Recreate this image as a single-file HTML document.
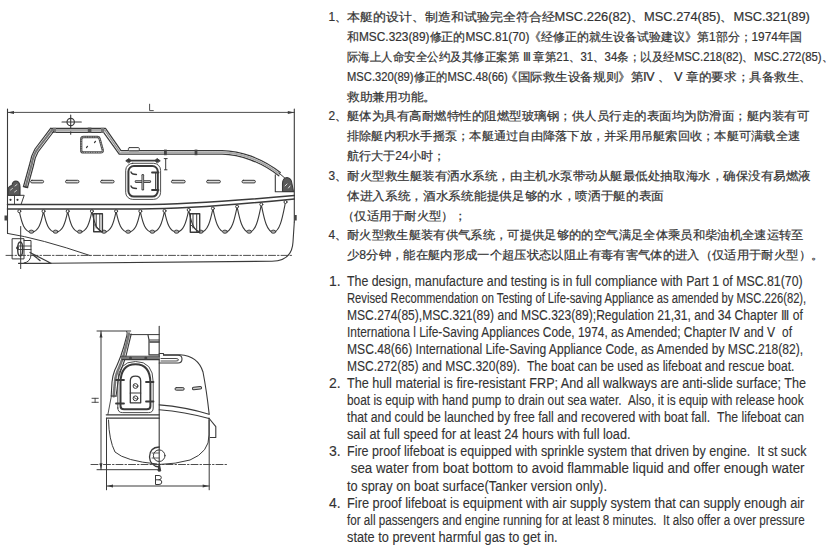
<!DOCTYPE html>
<html><head><meta charset="utf-8"><style>
html,body{margin:0;padding:0;background:#fff;}
body{width:830px;height:552px;position:relative;overflow:hidden;font-family:"Liberation Sans",sans-serif;color:#333;}
.cn,.en{position:absolute;white-space:nowrap;line-height:14px;height:14px;}
.cn{font-size:11.9px;-webkit-text-stroke:0.2px #333;}
.en{font-size:14.0px;color:#333;-webkit-text-stroke:0.12px #333;}
.ln{left:347px;transform-origin:0 0;}
.cn.num{left:328.6px;}
.en.num{left:329px;}
svg{position:absolute;left:0;top:0;}
</style></head><body>
<svg width="830" height="552" viewBox="0 0 830 552" fill="none" stroke="#3a3a3a" stroke-width="1" stroke-linecap="round" stroke-linejoin="round">
<!-- ===== SIDE VIEW ===== -->
<!-- L dimension -->
<path d="M7.5 109 V233.4 M294.3 109 V222" stroke-width="1.1"/>
<path d="M7.5 112.4 H294.3" stroke-width="0.9"/>
<path d="M7.5 112.4 L14 110.9 V113.9 Z M294.3 112.4 L287.8 110.9 V113.9 Z" fill="#3a3a3a" stroke="none"/>
<path d="M149.6 104.2 V110.6 H153.3" stroke-width="0.9"/>
<!-- mast light -->
<circle cx="70.7" cy="122" r="3.7" stroke-width="1.2"/>
<path d="M62 122 H81.3 M70.7 115 V134.3" stroke-width="1.1"/>
<!-- canopy top rail -->
<path d="M50.6 128.3 H105.5 L121 150.6 H222 C240 150.8 262 158 280.3 172.5" stroke-width="1.2"/>
<path d="M52.2 132.3 H103.6 L119.2 154.2 H222 C240 154.4 261 161.8 278.8 175.8" stroke-width="1.2"/>
<path d="M52 130.3 H104.5" stroke="#aaa" stroke-width="2.4"/><path d="M105 130.5 L120 152.4" stroke="#999" stroke-width="1.6" stroke-dasharray="1.4 1"/>
<path d="M122 152.4 H222 C240 152.6 261.5 160 279.5 174.2" stroke="#aaa" stroke-width="2" stroke-dasharray="1.6 1"/>
<rect x="87.8" y="127.6" width="3.6" height="5.2" fill="#555" stroke="none"/>
<rect x="53" y="127.8" width="3" height="5" fill="#777" stroke="none"/>
<rect x="101" y="127.8" width="3" height="5" fill="#777" stroke="none"/>
<rect x="128.4" y="147.6" width="10.9" height="3.2" rx="1" stroke-width="1" fill="#fff"/>
<rect x="164" y="149.6" width="2.8" height="5.6" fill="#444" stroke="none"/>
<rect x="194.6" y="149.6" width="2.8" height="5.6" fill="#444" stroke="none"/>
<!-- bow canopy slope -->
<path d="M50.6 128.3 L35 149 Q31 156 30 163 L23.5 186.5" stroke-width="1.2"/>
<path d="M53.6 131.5 L38 152 Q34.5 158 33.6 165 L27.5 187.5" stroke-width="1.2"/>
<path d="M52 130 L36.5 150.5 Q32.8 157 31.8 164 L25.5 187" stroke="#777" stroke-width="2.2" stroke-dasharray="1.4 0.9"/>
<path d="M23.5 186.5 L27.5 187.5" stroke-width="1.4"/>
<!-- window -->
<path d="M83.5 137 H97.5 Q99 137 99.5 138.4 L102.8 150.2 Q103.1 152.4 100.8 152.4 H83.2 Q81.2 152.4 81.2 150.2 V139.4 Q81.2 137 83.5 137 Z" stroke-width="2.3" stroke="#444"/><path d="M83.5 137 H97.5 Q99 137 99.5 138.4 L102.8 150.2 Q103.1 152.4 100.8 152.4 H83.2 Q81.2 152.4 81.2 150.2 V139.4 Q81.2 137 83.5 137 Z" stroke-width="0.7" stroke="#ccc" stroke-dasharray="0.9 1.5"/>
<path d="M86.5 147.5 L87.5 146.3 M94.5 142.5 L95.5 141.3" stroke-width="1.2"/>
<!-- dashed windows line -->
<g stroke-width="1" fill="#ddd">
<rect x="30.6" y="180.3" width="13" height="2.6" rx="1.3"/>
<rect x="65.5" y="180.3" width="13.5" height="2.6" rx="1.3"/>
<rect x="100.6" y="180.3" width="13.5" height="2.6" rx="1.3"/>
<rect x="171.4" y="180.3" width="13.8" height="2.6" rx="1.3"/>
<rect x="206.6" y="180.3" width="13.8" height="2.6" rx="1.3"/>
<rect x="242" y="180.3" width="13.4" height="2.6" rx="1.3"/>
</g>
<!-- door -->
<rect x="125.7" y="163.3" width="34.9" height="36.1" rx="7" stroke-width="0.9"/>
<rect x="128.4" y="166" width="29.4" height="30.6" rx="5.5" stroke-width="2"/>
<path d="M136 181.6 H149.8" stroke-width="2.6"/>
<path d="M136 181.6 H149.8" stroke="#ddd" stroke-width="0.8"/>
<path d="M142.8 175.3 V189.2" stroke-width="2.6"/>
<path d="M142.8 175.5 V189" stroke="#ddd" stroke-width="0.8"/>
<path d="M131 172 Q131.5 174.5 136.5 174.5 M131 186 Q131.5 188.5 136.5 188.5" stroke-width="1.3"/>
<path d="M152 172.5 H158.5 M152 190 H158.5" stroke-width="1.8"/><path d="M155.6 172.5 V190" stroke-width="1"/>
<path d="M127 160.6 H158.7" stroke-width="1.9"/>
<path d="M126 160.6 L129 158.4 L131 160.6 L129 162.8 Z M160 160.6 L157 158.4 L155 160.6 L157 162.8 Z" fill="#3a3a3a" stroke-width="0.8"/>
<path d="M165.7 158.8 V169.5 M164.2 158.6 H167.2 M164.5 169.8 H167" stroke-width="1"/>
<!-- bow hook mechanism -->
<path d="M7.5 195.3 H24.2 L21 204.6" stroke-width="1"/>
<path d="M14.5 195.5 V204.5" stroke-width="0.9"/>
<circle cx="10.5" cy="199.8" r="1.1" fill="#333" stroke="none"/>
<circle cx="17.5" cy="199.8" r="1.1" fill="#333" stroke="none"/>
<path d="M8 195.3 V189.5 Q8.5 186 12 185.5 Q12.5 181 16 181 Q20 181.5 20 187 V195.3 Z" fill="#5a5a5a" stroke-width="1.1"/>
<path d="M10.5 190 L12.5 188.5 M15 186 L17 184.5 M14.5 192 L16.5 190.5" stroke="#ddd" stroke-width="0.9"/>
<!-- stern mechanism -->
<path d="M275.3 174.8 V191.7 H293.6" stroke-width="1.1"/>
<path d="M279 173 L287 180" stroke-width="1"/>
<path d="M282.5 191.5 V183.5 Q283 177.5 287 177.5 Q291.5 178 292 184 L293.5 191.5 Z" fill="#5a5a5a" stroke-width="1.1"/>
<path d="M285 186 L287 184 M288.5 188 L290 186" stroke="#eee" stroke-width="0.9"/>
<!-- gunwale -->
<path d="M7.5 204.6 H140 C190 204.6 240 200.5 294.3 195.5" stroke-width="1.5"/>
<path d="M7.5 209 H140 C190 209 240 204.5 294.3 198.9" stroke-width="1.5"/>
<!-- festoons -->
<g stroke-width="1.1">
<path d="M19.3 211.4 C21.8 223.4 24.4 232.0 31.4 232.0 C38.4 232.0 41.0 223.4 43.5 211.4 M43.5 211.4 C46.0 223.4 48.6 232.0 55.6 232.0 C62.6 232.0 65.2 223.4 67.7 211.4 M67.7 211.4 C70.2 223.4 72.8 232.0 79.8 232.0 C86.8 232.0 89.4 223.4 91.9 211.4 M91.9 211.4 C94.4 223.4 97.0 232.0 104.0 232.0 C111.0 232.0 113.6 223.4 116.1 211.4 M116.1 211.4 C118.6 223.4 121.2 232.0 128.2 232.0 C135.2 232.0 137.8 223.4 140.3 211.4 M140.3 211.4 C142.8 223.4 145.4 232.0 152.4 232.0 C159.4 232.0 162.0 223.1 164.5 211.1 M164.5 211.1 C167.0 223.1 169.6 232.0 176.6 232.0 C183.6 232.0 186.2 222.1 188.7 210.1 M188.7 210.1 C191.2 222.1 193.8 232.0 200.8 232.0 C207.8 232.0 210.4 220.6 212.9 208.6 M212.9 208.6 C215.4 220.6 218.0 232.0 225.0 232.0 C232.0 232.0 234.6 218.8 237.1 206.8 M237.1 206.8 C239.6 218.8 242.2 232.0 249.2 232.0 C256.2 232.0 258.8 216.6 261.3 204.6 M261.3 204.6 C263.8 216.6 266.4 232.0 273.4 232.0 C280.4 232.0 283.0 214.2 285.5 202.2 "/><ellipse cx="31.4" cy="231.7" rx="2.4" ry="1.6" fill="#aaa" stroke-width="0.9"/><ellipse cx="55.6" cy="231.7" rx="2.4" ry="1.6" fill="#aaa" stroke-width="0.9"/><ellipse cx="79.8" cy="231.7" rx="2.4" ry="1.6" fill="#aaa" stroke-width="0.9"/><ellipse cx="104.0" cy="231.7" rx="2.4" ry="1.6" fill="#aaa" stroke-width="0.9"/><ellipse cx="128.2" cy="231.7" rx="2.4" ry="1.6" fill="#aaa" stroke-width="0.9"/><ellipse cx="152.4" cy="231.7" rx="2.4" ry="1.6" fill="#aaa" stroke-width="0.9"/><ellipse cx="176.6" cy="231.7" rx="2.4" ry="1.6" fill="#aaa" stroke-width="0.9"/><ellipse cx="200.8" cy="231.7" rx="2.4" ry="1.6" fill="#aaa" stroke-width="0.9"/><ellipse cx="225.0" cy="231.7" rx="2.4" ry="1.6" fill="#aaa" stroke-width="0.9"/><ellipse cx="249.2" cy="231.7" rx="2.4" ry="1.6" fill="#aaa" stroke-width="0.9"/><ellipse cx="273.4" cy="231.7" rx="2.4" ry="1.6" fill="#aaa" stroke-width="0.9"/><circle cx="19.3" cy="211.2" r="1.5" fill="#fff" stroke-width="1"/><circle cx="43.5" cy="211.2" r="1.5" fill="#fff" stroke-width="1"/><circle cx="67.7" cy="211.2" r="1.5" fill="#fff" stroke-width="1"/><circle cx="91.9" cy="211.2" r="1.5" fill="#fff" stroke-width="1"/><circle cx="116.1" cy="211.2" r="1.5" fill="#fff" stroke-width="1"/><circle cx="140.3" cy="211.2" r="1.5" fill="#fff" stroke-width="1"/><circle cx="164.5" cy="210.9" r="1.5" fill="#fff" stroke-width="1"/><circle cx="188.7" cy="209.9" r="1.5" fill="#fff" stroke-width="1"/><circle cx="212.9" cy="208.4" r="1.5" fill="#fff" stroke-width="1"/><circle cx="237.1" cy="206.6" r="1.5" fill="#fff" stroke-width="1"/><circle cx="261.3" cy="204.4" r="1.5" fill="#fff" stroke-width="1"/><circle cx="285.5" cy="202.0" r="1.5" fill="#fff" stroke-width="1"/>
</g>
<!-- steps -->
<rect x="93.7" y="213.7" width="8.7" height="18.1" stroke-width="1.4"/>
<path d="M96.2 214 V228 M99.8 214 V231.5 M94.5 225 L101.5 231.5" stroke-width="1"/>
<rect x="190.3" y="213.8" width="9.4" height="18.5" stroke-width="1.4"/>
<path d="M193 214 V228 M196.7 214 V232 M191 225 L198.5 232" stroke-width="1"/>
<!-- hull -->
<path d="M7.5 233.4 Q40 238.5 90 255.5" stroke-width="1"/>
<path d="M51 263.3 L272 261.2 Q292 261 293 242 L294.3 222" stroke-width="1.1"/>
<path d="M6 255.4 H293" stroke-width="0.9" stroke-dasharray="7 2 1.5 2"/>
<rect x="4.5" y="215.5" width="3" height="5" fill="#444" stroke="none"/>
<rect x="294.3" y="215" width="2.4" height="5.5" fill="#444" stroke="none"/>
<!-- rudder/propeller -->
<path d="M20.7 226.5 V268.6" stroke-width="1"/>
<path d="M12.5 238.7 H24 V258.9 H12.5 Z" stroke-width="1"/>
<path d="M18.5 263.3 H51 L30 252.5" stroke-width="1.2"/>
<path d="M24 240.5 H31 V254 Q31 262 24 263" stroke-width="1"/>
<path d="M18 246 H31 M18 249.5 H31" stroke-width="0.9"/>
<ellipse cx="20.2" cy="249" rx="2.5" ry="7" stroke-width="1.4"/>
<circle cx="17.5" cy="248" r="1.4" fill="#333" stroke="none"/>
<path d="M33 255 L37 258 M38 259 L40 260.5" stroke-width="1.4"/>

<!-- ===== FRONT VIEW ===== -->
<!-- H dimension -->
<path d="M97 331 H130.7 M97 469.7 H159.2" stroke-width="1"/>
<path d="M101 331 V469.7" stroke-width="1"/>
<path d="M101 331.5 L99.5 337.5 H102.5 Z M101 469.2 L99.5 463.2 H102.5 Z" fill="#3a3a3a" stroke="none"/>
<path d="M92 398.3 H98.3 M92 402.3 H98.3 M95.1 398.3 V402.3" stroke-width="0.9"/>
<!-- center line -->
<path d="M159.2 326.4 V471" stroke-width="1.1"/>
<!-- roof + hatch (left half) -->
<path d="M130.5 334.6 H159.2" stroke-width="1"/>
<path d="M148 335 L149 340 V354.9 H159 M149 340 H159" stroke-width="1.2"/>
<path d="M150 342 H159" stroke-width="1.6"/>
<!-- canopy slope left -->
<path d="M126.6 331.5 Q127.5 332 127 335 Q124 347 120.8 356 Q116.5 367 114.8 370 Q112.5 376 112 382 L111.2 396" stroke-width="1.1"/>
<path d="M131.2 334 Q128.3 346 126 356 Q123 365 121 370 Q118.5 376 118 382 L116 396.5" stroke-width="1.1"/>
<path d="M129 333.5 Q126.2 346 123.4 356 Q120 366 118 370 Q115.5 376 115 382 L113.6 396.3" stroke="#777" stroke-width="2.6" stroke-dasharray="1.4 0.9"/>
<path d="M111.2 396 H116" stroke-width="1"/>
<path d="M111.4 396 L107.9 414.5" stroke-width="0.9"/>
<!-- rail -->
<path d="M121 356.2 H159.2 M122 359.6 H159.2" stroke-width="1.1"/>
<path d="M122 357.9 H159" stroke="#777" stroke-width="2.4"/>
<circle cx="130.5" cy="357.9" r="1.5" fill="#444" stroke="none"/>
<circle cx="145.8" cy="357.9" r="1.5" fill="#444" stroke="none"/>
<!-- right rail end -->
<path d="M159.2 353.5 H163.5 V355.3 H178 Q182 355.3 182 359 Q182 363 178 363 H159.2" stroke-width="1.1"/>
<path d="M161 358.5 H176 Q178.5 358.5 178.5 360 Q178.5 361 176 361 H161" stroke-width="0.9"/>
<!-- right canopy outline -->
<path d="M163.5 354.8 H180 Q198 356 203 372 Q206.5 390 209.2 414.2" stroke-width="1.1"/>
<!-- right dashes -->
<rect x="175" y="387.6" width="9.2" height="2.6" rx="1.3" fill="#ccc" stroke-width="1"/>
<rect x="192.4" y="386.8" width="9.2" height="2.6" rx="1.3" fill="#ccc" stroke-width="1" transform="rotate(-6 197 388)"/>
<!-- door -->
<path d="M117.8 408 V382 Q117.8 361.5 135.5 361.5 Q153.2 361.5 153.2 382 V408 Q153.2 412.6 148.6 412.6 H122.4 Q117.8 412.6 117.8 408 Z" stroke-width="0.9"/>
<path d="M120.5 406 V383 Q120.5 364.2 135.5 364.2 Q150.4 364.2 150.4 383 V406 Q150.4 409.3 147 409.3 H124 Q120.5 409.3 120.5 406 Z" stroke-width="2"/>
<path d="M130.3 402.8 V381 Q130.3 376.2 135.5 376.2 Q140.7 376.2 140.7 381 V402.8 Z" stroke-width="1.3"/>
<path d="M130.3 393 H140.7" stroke-width="1.2"/>
<circle cx="135.5" cy="386" r="2.4" stroke-width="1"/>
<circle cx="135.5" cy="398.3" r="2.4" stroke-width="1"/>
<path d="M134 385 L137 387 M134 397.5 L137 399.3" stroke-width="0.8"/>
<path d="M116 380 H124 M116 403.5 H124 M146 382 H153.5 M146 401.5 H153.5" stroke-width="1.8"/>
<!-- gunwale left half -->
<path d="M106.3 414.8 H159.2 M106.5 418.2 H159.2" stroke-width="1.3"/>
<!-- gunwale right curve -->
<path d="M159.2 404.9 Q185 407 209 414.2 M159.2 409.8 Q185 412 209 418.5" stroke-width="1.1"/>
<!-- right hull -->
<path d="M209 418 V435 Q209.5 452 190 460 Q176 464 159.2 464.5" stroke-width="1"/>
<path d="M209.2 418.5 L215.8 426.6 V437.5 H210.3" stroke-width="1.1"/>
<path d="M209.2 420 V489.8" stroke-width="1"/>
<!-- left hull -->
<path d="M108.5 420 Q109 440 115 452 Q125 461 157 464" stroke-width="1"/>
<path d="M106.5 418.2 V489.8" stroke-width="1"/>
<!-- B dimension -->
<path d="M106.5 486 H209.2" stroke-width="1"/>
<path d="M107 486 L113 484.5 V487.5 Z M208.7 486 L202.7 484.5 V487.5 Z" fill="#3a3a3a" stroke="none"/>
<path d="M155.5 475.5 V484.5 H159 Q161.8 484.5 161.8 482 Q161.8 479.8 159 479.8 H155.5 M159 479.8 Q161.3 479.8 161.3 477.7 Q161.3 475.5 159 475.5 H155.5" stroke-width="1"/>
<!-- centerline -->
<path d="M91 464.5 H227.5" stroke-width="0.9" stroke-dasharray="7 2 1.5 2"/>
<!-- propeller -->
<circle cx="159.2" cy="455.7" r="5.8" stroke-width="1"/>
<path d="M159.2 447 Q149.5 447.5 149.5 457 Q150 466 159.2 467" stroke-width="1.3"/>
<path d="M152 453 H159 M152 458 H159" stroke-width="0.8"/>
<path d="M159.2 464 L158 471 H160.4 Z" fill="#333" stroke-width="1"/>
</svg>

<div class="cn num" style="top:10.20px">1、</div>
<div class="cn ln" style="top:10.20px;transform:scaleX(1.0812)">本艇的设计、制造和试验完全符合经MSC.226(82)、MSC.274(85)、MSC.321(89)</div>
<div class="cn ln" style="top:30.03px;transform:scaleX(0.9977)">和MSC.323(89)修正的MSC.81(70)《经修正的就生设备试验建议》第1部分；1974年国</div>
<div class="cn ln" style="top:49.86px;transform:scaleX(0.9575)">际海上人命安全公约及其修正案第 Ⅲ 章第21、31、34条；以及经MSC.218(82)、MSC.272(85)、</div>
<div class="cn ln seg" id="c3s0" style="top:69.69px;margin-left:-0.06px;transform:scaleX(0.9415)">MSC.320(89)修正的MSC.48(66)</div>
<div class="cn ln seg" id="c3s1" style="top:69.69px;margin-left:158.26px;transform:scaleX(1.0482)">《国际救生设备规则》第Ⅳ 、 Ⅴ 章的要求；具备救生、</div>
<div class="cn ln" style="top:89.52px;transform:scaleX(1.0601)">救助兼用功能。</div>
<div class="cn num" style="top:109.35px">2、</div>
<div class="cn ln" style="top:109.35px;transform:scaleX(1.0407)">艇体为具有高耐燃特性的阻燃型玻璃钢；供人员行走的表面均为防滑面；艇内装有可</div>
<div class="cn ln" style="top:129.18px;transform:scaleX(1.0207)">排除艇内积水手摇泵；本艇通过自由降落下放，并采用吊艇索回收；本艇可满载全速</div>
<div class="cn ln" style="top:149.01px;transform:scaleX(1.0064)">航行大于24小时；</div>
<div class="cn num" style="top:168.84px">3、</div>
<div class="cn ln" style="top:168.84px;transform:scaleX(1.0449)">耐火型救生艇装有洒水系统，由主机水泵带动从艇最低处抽取海水，确保没有易燃液</div>
<div class="cn ln" style="top:188.67px;transform:scaleX(1.0571)">体进入系统，酒水系统能提供足够的水，喷洒于艇的表面</div>
<div class="cn ln" style="top:208.50px;margin-left:-5px;transform:scaleX(1.0362)">（仅适用于耐火型）；</div>
<div class="cn num" style="top:228.33px">4、</div>
<div class="cn ln" style="top:228.33px;transform:scaleX(1.0285)">耐火型救生艇装有供气系统，可提供足够的的空气满足全体乘员和柴油机全速运转至</div>
<div class="cn ln" style="top:248.16px;transform:scaleX(1.0295)">少8分钟，能在艇内形成一个超压状态以阻止有毒有害气体的进入（仅适用于耐火型）。</div>
<div class="en num" style="top:273.50px">1.</div>
<div class="en ln" style="top:273.50px;transform:scaleX(0.8804)">The design, manufacture and testing is in full compliance with Part 1 of MSC.81(70)</div>
<div class="en ln" style="top:290.59px;transform:scaleX(0.7999)">Revised Recommendation on Testing of Life-saving Appliance as amended by MSC.226(82),</div>
<div class="en ln" style="top:307.68px;transform:scaleX(0.8630)">MSC.274(85),MSC.321(89) and MSC.323(89);Regulation 21,31, and 34 Chapter Ⅲ of</div>
<div class="en ln" style="top:324.77px;transform:scaleX(0.8502)">Internationa l Life-Saving Appliances Code, 1974, as Amended; Chapter Ⅳ and Ⅴ &nbsp;of</div>
<div class="en ln" style="top:341.86px;transform:scaleX(0.8646)">MSC.48(66) International Life-Saving Appliance Code, as Amended by MSC.218(82),</div>
<div class="en ln" style="top:358.95px;transform:scaleX(0.8594)">MSC.272(85) and MSC.320(89). &nbsp;The boat can be used as lifeboat and rescue boat.</div>
<div class="en num" style="top:376.04px">2.</div>
<div class="en ln" style="top:376.04px;transform:scaleX(0.9013)">The hull material is fire-resistant FRP; And all walkways are anti-slide surface; The</div>
<div class="en ln" style="top:393.13px;transform:scaleX(0.8478)">boat is equip with hand pump to drain out sea water. &nbsp;Also, it is equip with release hook</div>
<div class="en ln" style="top:410.22px;transform:scaleX(0.8740)">that and could be launched by free fall and recovered with boat fall. &nbsp;The lifeboat can</div>
<div class="en ln" style="top:427.31px;transform:scaleX(0.9062)">sail at full speed for at least 24 hours with full load.</div>
<div class="en num" style="top:444.40px">3.</div>
<div class="en ln" style="top:444.40px;transform:scaleX(0.8935)">Fire proof lifeboat is equipped with sprinkle system that driven by engine. &nbsp;It st suck</div>
<div class="en ln" style="top:461.49px;transform:scaleX(0.9534)">&nbsp;sea water from boat bottom to avoid flammable liquid and offer enough water</div>
<div class="en ln" style="top:478.58px;transform:scaleX(0.9152)">to spray on boat surface(Tanker version only).</div>
<div class="en num" style="top:495.67px">4.</div>
<div class="en ln" style="top:495.67px;transform:scaleX(0.9126)">Fire proof lifeboat is equipment with air supply system that can supply enough air</div>
<div class="en ln" style="top:512.76px;transform:scaleX(0.8321)">for all passengers and engine running for at least 8 minutes. &nbsp;It also offer a over pressure</div>
<div class="en ln" style="top:529.85px;transform:scaleX(0.9112)">state to prevent harmful gas to get in.</div>
</body></html>
